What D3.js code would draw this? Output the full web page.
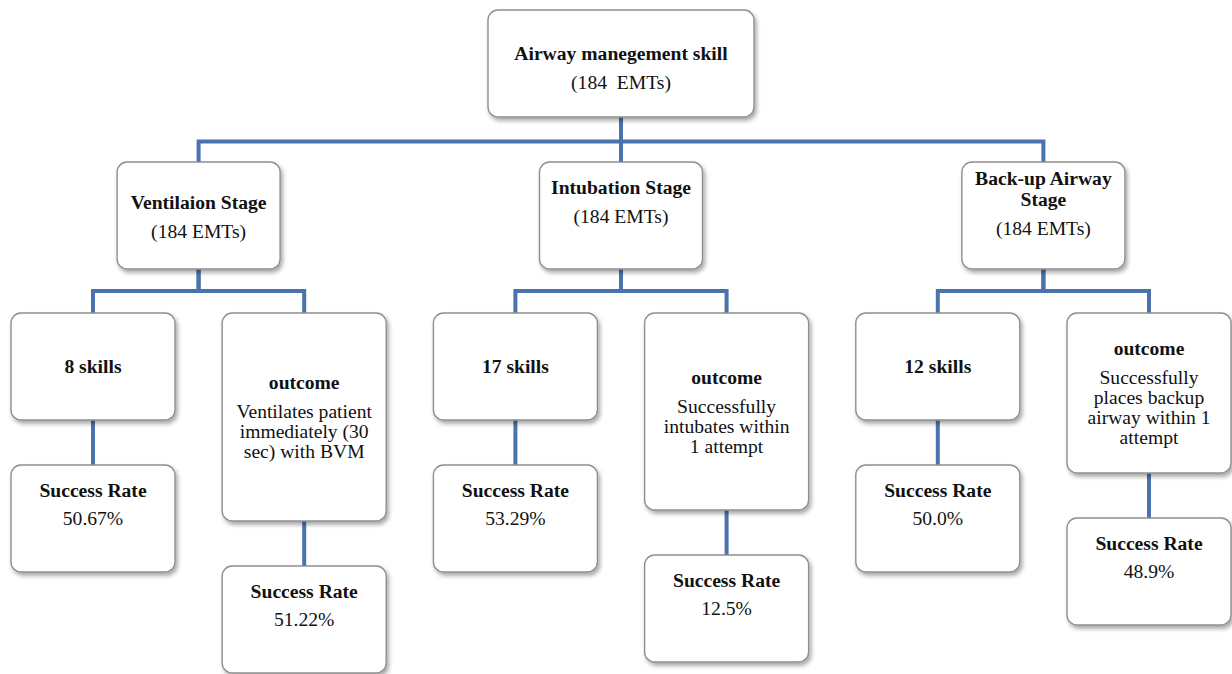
<!DOCTYPE html>
<html>
<head>
<meta charset="utf-8">
<script src="https://cdn.jsdelivr.net/npm/d3@7"></script>
<style>
  body { margin: 0; background: #fff; }
  svg text { fill: #111; white-space: pre; }
</style>
</head>
<body>
<svg id="chart" width="1232" height="674"></svg>
<script>
// chart data
var rootTitle = "Airway manegement skill";
var rootCount = "(184  EMTs)";
var stageNames = [["Ventilaion Stage"], ["Intubation Stage"], ["Back-up Airway", "Stage"]];
var stageCounts = ["(184 EMTs)", "(184 EMTs)", "(184 EMTs)"];
var skillCounts = ["8 skills", "17 skills", "12 skills"];
var outcomeTexts = [
    ["Ventilates patient", "immediately (30", "sec) with BVM"],
    ["Successfully", "intubates within", "1 attempt"],
    ["Successfully", "places backup", "airway within 1", "attempt"]
];
var skillRates = ["50.67%", "53.29%", "50.0%"];
var outcomeRates = ["51.22%", "12.5%", "48.9%"];

// layout
var rootBox = { w: 266, h: 107, top: 10 };
var stageBox = { w: 163, h: 107, top: 162 };
var leafBox = { w: 164, h: 107, top: 313 };
var outcomeHeights = [208, 197, 160];
var stageTextOffset = [40, 25, 16];
var rateGap = 45;
var fontSize = 19.6;
var fontFamily = "'Liberation Serif', 'DejaVu Serif', 'Times New Roman', serif";
var lineBlue = '#4a73ad';

var svg = d3.select('#chart');

var defs = svg.append('defs');
var shadow = defs.append('filter').attr('id', 'box_shadow')
    .attr('x', '-10%').attr('y', '-10%').attr('width', '130%').attr('height', '130%');
shadow.append('feDropShadow').attr('dx', 2).attr('dy', 3).attr('stdDeviation', 2)
    .attr('flood-color', '#000').attr('flood-opacity', 0.35);

// column positions: six leaf columns, stage = mid of its pair, root = mid of stages
var leafKeys = [];
stageNames.forEach(function(d, i) { leafKeys.push('skill' + i, 'outcome' + i); });
var x = d3.scalePoint().domain(leafKeys).range([93, 1149]);

var stageX = stageNames.map(function(d, i) { return (x('skill' + i) + x('outcome' + i)) / 2; });
var rootX = d3.mean(stageX);

var lines = svg.append('g').attr('fill', 'none').attr('stroke', lineBlue).attr('stroke-width', 4);
var boxes = svg.append('g').attr('font-family', fontFamily);

function elbow(px, py, cx, cy, midY) {
    var p = d3.path();
    p.moveTo(px, py);
    p.lineTo(px, midY);
    p.lineTo(cx, midY);
    p.lineTo(cx, cy);
    return p.toString();
}

function drawBox(cx, top, w, h) {
    boxes.append('rect')
        .attr('x', cx - w / 2).attr('y', top)
        .attr('width', w).attr('height', h)
        .attr('rx', 10).attr('ry', 10)
        .attr('fill', '#fff').attr('stroke', '#8f8f8f').attr('stroke-width', 1.4)
        .attr('filter', 'url(#box_shadow)');
}

function drawText(cx, y, str, bold) {
    boxes.append('text')
        .attr('x', cx).attr('y', y)
        .attr('text-anchor', 'middle').attr('dominant-baseline', 'central')
        .attr('font-family', fontFamily)
        .attr('font-size', fontSize)
        .attr('font-weight', bold ? 'bold' : 'normal')
        .text(str);
}

// root
drawBox(rootX, rootBox.top, rootBox.w, rootBox.h);
drawText(rootX, rootBox.top + 43, rootTitle, true);
drawText(rootX, rootBox.top + 72, rootCount, false);

var rootBottom = rootBox.top + rootBox.h;
var stageMid = (rootBottom + stageBox.top) / 2 + 2;

stageNames.forEach(function(name, i) {
    var sx = stageX[i];
    lines.append('path').attr('d', elbow(rootX, rootBottom, sx, stageBox.top, stageMid));

    drawBox(sx, stageBox.top, stageBox.w, stageBox.h);
    var ty = stageBox.top + stageTextOffset[i];
    name.forEach(function(l, j) { drawText(sx, ty + j * 21, l, true); });
    drawText(sx, ty + (name.length - 1) * 21 + 29, stageCounts[i], false);

    var stageBottom = stageBox.top + stageBox.h;
    var leafMid = (stageBottom + leafBox.top) / 2;

    // skills column
    var kx = x('skill' + i);
    lines.append('path').attr('d', elbow(sx, stageBottom, kx, leafBox.top, leafMid));
    drawBox(kx, leafBox.top, leafBox.w, leafBox.h);
    drawText(kx, leafBox.top + leafBox.h / 2, skillCounts[i], true);

    var kRateTop = leafBox.top + leafBox.h + rateGap;
    lines.append('line').attr('x1', kx).attr('x2', kx)
        .attr('y1', leafBox.top + leafBox.h).attr('y2', kRateTop);
    drawBox(kx, kRateTop, leafBox.w, leafBox.h);
    drawText(kx, kRateTop + 25, 'Success Rate', true);
    drawText(kx, kRateTop + 53, skillRates[i], false);

    // outcome column
    var ox = x('outcome' + i);
    var oh = outcomeHeights[i];
    lines.append('path').attr('d', elbow(sx, stageBottom, ox, leafBox.top, leafMid));
    drawBox(ox, leafBox.top, leafBox.w, oh);
    var txt = outcomeTexts[i];
    var blockH = 29 + (txt.length - 1) * 20;
    var oy = leafBox.top + oh / 2 - blockH / 2;
    drawText(ox, oy, 'outcome', true);
    txt.forEach(function(l, j) { drawText(ox, oy + 29 + j * 20, l, false); });

    var oRateTop = leafBox.top + oh + rateGap;
    lines.append('line').attr('x1', ox).attr('x2', ox)
        .attr('y1', leafBox.top + oh).attr('y2', oRateTop);
    drawBox(ox, oRateTop, leafBox.w, leafBox.h);
    drawText(ox, oRateTop + 25, 'Success Rate', true);
    drawText(ox, oRateTop + 53, outcomeRates[i], false);
});
</script>
</body>
</html>
